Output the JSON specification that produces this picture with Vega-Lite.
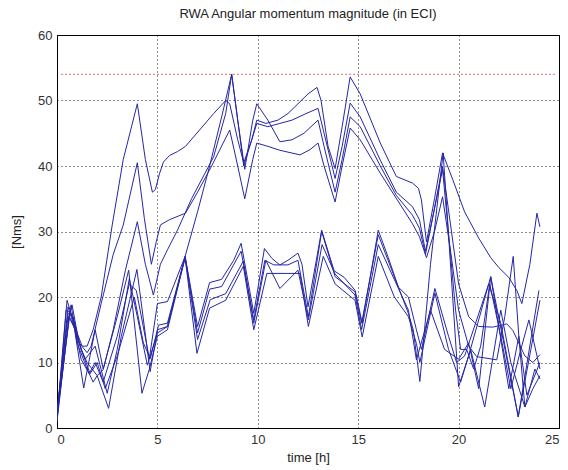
{
"$schema": "https://vega.github.io/schema/vega-lite/v6.json",
"width": 502, "height": 393,
"autosize": {"type": "none"},
"padding": {"left": 57, "top": 35, "right": 9, "bottom": 42},
"background": "white",
"title": {"text": "RWA Angular momentum magnitude (in ECI)", "fontSize": 13, "fontWeight": "normal", "font": "Liberation Sans", "color": "#222", "offset": 8},
"config": {
  "view": {"stroke": "#000", "strokeWidth": 1},
  "axis": {"labelFont": "Liberation Sans", "labelFontSize": 13, "labelColor": "#333", "titleFont": "Liberation Sans", "titleFontSize": 13, "titleFontWeight": "normal", "titleColor": "#222", "domainColor": "#000", "grid": true, "gridColor": "#000", "gridDash": [1, 3], "gridOpacity": 0.9, "ticks": false}
},
"datasets": {
  "red": [{"t": 0.2, "v": 54}, {"t": 24.8, "v": 54}],
  "m": [
{"s":"U1","t":0,"v":1.5},{"s":"U1","t":0.45,"v":18},{"s":"U1","t":0.7,"v":17.5},{"s":"U1","t":1.0,"v":14.5},{"s":"U1","t":1.25,"v":12.5},{"s":"U1","t":1.5,"v":12.5},{"s":"U1","t":1.8,"v":15},{"s":"U1","t":2.2,"v":20},{"s":"U1","t":2.75,"v":31},{"s":"U1","t":3.3,"v":41},{"s":"U1","t":4.0,"v":49.5},{"s":"U1","t":4.4,"v":41},{"s":"U1","t":4.75,"v":36},{"s":"U1","t":4.9,"v":36.4},{"s":"U1","t":5.1,"v":38.8},{"s":"U1","t":5.3,"v":40.6},{"s":"U1","t":5.6,"v":41.6},{"s":"U1","t":6.0,"v":42.2},{"s":"U1","t":6.4,"v":43},{"s":"U1","t":7.1,"v":45.5},{"s":"U1","t":7.8,"v":48},{"s":"U1","t":8.4,"v":50},{"s":"U1","t":8.6,"v":49.5},{"s":"U1","t":9.0,"v":44},{"s":"U1","t":9.3,"v":40.5},{"s":"U1","t":9.7,"v":44},{"s":"U1","t":9.95,"v":46.5},{"s":"U1","t":10.5,"v":46},{"s":"U1","t":11.1,"v":46.5},{"s":"U1","t":11.7,"v":47},{"s":"U1","t":12.4,"v":48},{"s":"U1","t":13.0,"v":48.8},{"s":"U1","t":13.3,"v":45},{"s":"U1","t":13.85,"v":38.1},{"s":"U1","t":14.2,"v":43},{"s":"U1","t":14.6,"v":49.6},{"s":"U1","t":15.1,"v":47.5},{"s":"U1","t":16.1,"v":40.9},{"s":"U1","t":16.9,"v":36},{"s":"U1","t":17.7,"v":33.8},{"s":"U1","t":18.05,"v":31.8},{"s":"U1","t":18.35,"v":27},{"s":"U1","t":18.7,"v":32},{"s":"U1","t":19.2,"v":39.9},{"s":"U1","t":19.6,"v":31},{"s":"U1","t":20.0,"v":22},{"s":"U1","t":20.5,"v":17},{"s":"U1","t":21.0,"v":15.5},{"s":"U1","t":21.7,"v":15.4},{"s":"U1","t":22.4,"v":15.9},{"s":"U1","t":22.7,"v":14.9},{"s":"U1","t":23.3,"v":11},{"s":"U1","t":23.7,"v":10},{"s":"U1","t":24.05,"v":11.2},

{"s":"U2","t":0,"v":2},{"s":"U2","t":0.55,"v":18.5},{"s":"U2","t":0.8,"v":16},{"s":"U2","t":1.1,"v":13},{"s":"U2","t":1.5,"v":11.5},{"s":"U2","t":1.7,"v":12.5},{"s":"U2","t":2.2,"v":19},{"s":"U2","t":2.8,"v":26.5},{"s":"U2","t":3.3,"v":31},{"s":"U2","t":4.0,"v":40.5},{"s":"U2","t":4.35,"v":32},{"s":"U2","t":4.7,"v":25},{"s":"U2","t":4.95,"v":28.5},{"s":"U2","t":5.15,"v":31},{"s":"U2","t":5.6,"v":31.8},{"s":"U2","t":6.4,"v":32.8},{"s":"U2","t":7.0,"v":36},{"s":"U2","t":7.7,"v":40},{"s":"U2","t":8.6,"v":45.5},{"s":"U2","t":9.0,"v":40},{"s":"U2","t":9.35,"v":35},{"s":"U2","t":9.75,"v":41},{"s":"U2","t":9.95,"v":43.5},{"s":"U2","t":10.5,"v":43},{"s":"U2","t":11.1,"v":42.4},{"s":"U2","t":12.1,"v":41.7},{"s":"U2","t":12.6,"v":42.5},{"s":"U2","t":13.0,"v":43.5},{"s":"U2","t":13.3,"v":40},{"s":"U2","t":13.85,"v":34.5},{"s":"U2","t":14.2,"v":40},{"s":"U2","t":14.6,"v":45.8},{"s":"U2","t":15.1,"v":44},{"s":"U2","t":16.1,"v":38.9},{"s":"U2","t":17.7,"v":31.2},{"s":"U2","t":18.05,"v":29.2},{"s":"U2","t":18.4,"v":26},{"s":"U2","t":18.8,"v":30},{"s":"U2","t":19.2,"v":35.3},{"s":"U2","t":19.6,"v":27},{"s":"U2","t":20.0,"v":18},{"s":"U2","t":20.5,"v":12.5},{"s":"U2","t":20.9,"v":10.9},{"s":"U2","t":21.9,"v":10.4},{"s":"U2","t":22.3,"v":17},{"s":"U2","t":22.72,"v":26.2},{"s":"U2","t":23.0,"v":14},{"s":"U2","t":23.3,"v":3.2},{"s":"U2","t":23.7,"v":6},{"s":"U2","t":24.05,"v":8},

{"s":"U3","t":0,"v":2.5},{"s":"U3","t":0.5,"v":16},{"s":"U3","t":0.75,"v":18.8},{"s":"U3","t":1.1,"v":13},{"s":"U3","t":1.4,"v":10.5},{"s":"U3","t":1.9,"v":12.5},{"s":"U3","t":2.5,"v":5.3},{"s":"U3","t":3.0,"v":12},{"s":"U3","t":3.6,"v":22.8},{"s":"U3","t":4.0,"v":17},{"s":"U3","t":4.5,"v":9.6},{"s":"U3","t":5.0,"v":14.5},{"s":"U3","t":5.5,"v":15.5},{"s":"U3","t":6.38,"v":26.2},{"s":"U3","t":7.0,"v":33},{"s":"U3","t":7.6,"v":40},{"s":"U3","t":8.2,"v":47.5},{"s":"U3","t":8.7,"v":54},{"s":"U3","t":9.0,"v":47},{"s":"U3","t":9.3,"v":40},{"s":"U3","t":9.7,"v":44},{"s":"U3","t":9.95,"v":47},{"s":"U3","t":10.4,"v":46.5},{"s":"U3","t":11.0,"v":47},{"s":"U3","t":11.5,"v":48},{"s":"U3","t":12.0,"v":49.5},{"s":"U3","t":12.5,"v":51},{"s":"U3","t":12.95,"v":52},{"s":"U3","t":13.15,"v":50},{"s":"U3","t":13.5,"v":43},{"s":"U3","t":13.85,"v":39.6},{"s":"U3","t":14.2,"v":46},{"s":"U3","t":14.6,"v":53.6},{"s":"U3","t":15.1,"v":51},{"s":"U3","t":16.1,"v":43.5},{"s":"U3","t":16.9,"v":38.4},{"s":"U3","t":17.7,"v":37.4},{"s":"U3","t":18.0,"v":36.6},{"s":"U3","t":18.15,"v":34.8},{"s":"U3","t":18.4,"v":28.4},{"s":"U3","t":18.8,"v":35},{"s":"U3","t":19.2,"v":42},{"s":"U3","t":19.7,"v":38},{"s":"U3","t":20.3,"v":33},{"s":"U3","t":21.0,"v":29},{"s":"U3","t":21.6,"v":26},{"s":"U3","t":22.0,"v":24.5},{"s":"U3","t":22.5,"v":23},{"s":"U3","t":22.9,"v":21},{"s":"U3","t":23.15,"v":19},{"s":"U3","t":23.55,"v":25},{"s":"U3","t":23.9,"v":32.8},{"s":"U3","t":24.05,"v":30.7},

{"s":"U4","t":0,"v":1},{"s":"U4","t":0.6,"v":17},{"s":"U4","t":0.85,"v":15.5},{"s":"U4","t":1.2,"v":12},{"s":"U4","t":1.5,"v":10},{"s":"U4","t":2.0,"v":8},{"s":"U4","t":2.3,"v":8.9},{"s":"U4","t":2.8,"v":15},{"s":"U4","t":3.4,"v":24},{"s":"U4","t":4.0,"v":31.5},{"s":"U4","t":4.4,"v":25},{"s":"U4","t":4.8,"v":20.3},{"s":"U4","t":5.15,"v":25},{"s":"U4","t":5.5,"v":27.2},{"s":"U4","t":6.0,"v":30.2},{"s":"U4","t":6.7,"v":35},{"s":"U4","t":7.8,"v":41.4},{"s":"U4","t":8.4,"v":48},{"s":"U4","t":8.7,"v":54},{"s":"U4","t":9.0,"v":47},{"s":"U4","t":9.35,"v":39.5},{"s":"U4","t":9.75,"v":47},{"s":"U4","t":9.95,"v":49.5},{"s":"U4","t":10.5,"v":47},{"s":"U4","t":11.1,"v":43.7},{"s":"U4","t":11.7,"v":44},{"s":"U4","t":12.3,"v":45},{"s":"U4","t":13.0,"v":47},{"s":"U4","t":13.3,"v":43},{"s":"U4","t":13.85,"v":36},{"s":"U4","t":14.2,"v":41},{"s":"U4","t":14.6,"v":47.5},{"s":"U4","t":15.1,"v":46},{"s":"U4","t":16.1,"v":40},{"s":"U4","t":16.9,"v":35.5},{"s":"U4","t":17.7,"v":32.5},{"s":"U4","t":18.05,"v":30.5},{"s":"U4","t":18.35,"v":26.5},{"s":"U4","t":18.7,"v":32},{"s":"U4","t":19.2,"v":39.5},{"s":"U4","t":19.55,"v":28},{"s":"U4","t":19.85,"v":18},{"s":"U4","t":20.1,"v":12},{"s":"U4","t":20.4,"v":12},{"s":"U4","t":20.75,"v":9},{"s":"U4","t":21.1,"v":12.5},{"s":"U4","t":21.55,"v":22},{"s":"U4","t":22.1,"v":14},{"s":"U4","t":22.6,"v":6},{"s":"U4","t":23.1,"v":12},{"s":"U4","t":23.5,"v":16.5},{"s":"U4","t":24.05,"v":9},

{"s":"L1","t":0,"v":1},{"s":"L1","t":0.5,"v":19.5},{"s":"L1","t":0.8,"v":16.5},{"s":"L1","t":1.33,"v":6.1},{"s":"L1","t":1.9,"v":15},{"s":"L1","t":2.3,"v":9},{"s":"L1","t":3.0,"v":17},{"s":"L1","t":3.57,"v":24.1},{"s":"L1","t":4.23,"v":5.3},{"s":"L1","t":4.6,"v":9},{"s":"L1","t":5.0,"v":14},{"s":"L1","t":5.5,"v":15},{"s":"L1","t":6.38,"v":26},{"s":"L1","t":6.97,"v":11.4},{"s":"L1","t":7.6,"v":18.3},{"s":"L1","t":8.4,"v":19.5},{"s":"L1","t":9.28,"v":24.7},{"s":"L1","t":9.8,"v":15},{"s":"L1","t":10.45,"v":23.6},{"s":"L1","t":11.0,"v":23.6},{"s":"L1","t":11.5,"v":23.6},{"s":"L1","t":12.1,"v":23.6},{"s":"L1","t":12.52,"v":15.5},{"s":"L1","t":13.26,"v":26.2},{"s":"L1","t":13.85,"v":22},{"s":"L1","t":14.84,"v":19.5},{"s":"L1","t":15.2,"v":13.9},{"s":"L1","t":16.0,"v":26.2},{"s":"L1","t":16.8,"v":20},{"s":"L1","t":17.5,"v":17},{"s":"L1","t":17.9,"v":12.9},{"s":"L1","t":18.07,"v":10},{"s":"L1","t":18.82,"v":20.6},{"s":"L1","t":19.5,"v":12},{"s":"L1","t":20.1,"v":7},{"s":"L1","t":20.6,"v":12},{"s":"L1","t":21.3,"v":3.2},{"s":"L1","t":22.1,"v":18},{"s":"L1","t":22.6,"v":10},{"s":"L1","t":23.3,"v":3.2},{"s":"L1","t":23.8,"v":9},{"s":"L1","t":24.05,"v":7.5},

{"s":"L2","t":0,"v":2},{"s":"L2","t":0.7,"v":18.8},{"s":"L2","t":1.0,"v":13},{"s":"L2","t":1.5,"v":9},{"s":"L2","t":1.8,"v":7},{"s":"L2","t":2.0,"v":8},{"s":"L2","t":2.57,"v":3},{"s":"L2","t":3.2,"v":14},{"s":"L2","t":3.98,"v":24.2},{"s":"L2","t":4.64,"v":8.6},{"s":"L2","t":5.05,"v":15.7},{"s":"L2","t":5.5,"v":16},{"s":"L2","t":6.38,"v":26.2},{"s":"L2","t":7.0,"v":14.5},{"s":"L2","t":7.6,"v":21.2},{"s":"L2","t":8.2,"v":21.6},{"s":"L2","t":9.17,"v":27},{"s":"L2","t":9.8,"v":16.5},{"s":"L2","t":10.35,"v":25.6},{"s":"L2","t":10.8,"v":24.9},{"s":"L2","t":11.5,"v":24.9},{"s":"L2","t":12.0,"v":25.6},{"s":"L2","t":12.52,"v":17},{"s":"L2","t":13.18,"v":30},{"s":"L2","t":13.85,"v":23.1},{"s":"L2","t":14.84,"v":20.8},{"s":"L2","t":15.17,"v":16},{"s":"L2","t":16.0,"v":29.5},{"s":"L2","t":17.5,"v":17.5},{"s":"L2","t":17.74,"v":15},{"s":"L2","t":18.07,"v":7.1},{"s":"L2","t":18.6,"v":25},{"s":"L2","t":19.23,"v":42},{"s":"L2","t":20.0,"v":6.3},{"s":"L2","t":20.5,"v":11},{"s":"L2","t":21.6,"v":23.1},{"s":"L2","t":22.97,"v":1.7},{"s":"L2","t":24.0,"v":21},

{"s":"L3","t":0,"v":1.5},{"s":"L3","t":0.6,"v":17},{"s":"L3","t":0.9,"v":15},{"s":"L3","t":1.2,"v":10.5},{"s":"L3","t":1.6,"v":8.3},{"s":"L3","t":1.9,"v":10},{"s":"L3","t":2.3,"v":7},{"s":"L3","t":3.0,"v":14},{"s":"L3","t":3.6,"v":22},{"s":"L3","t":3.95,"v":21},{"s":"L3","t":4.6,"v":10.6},{"s":"L3","t":5.0,"v":19},{"s":"L3","t":5.5,"v":19.3},{"s":"L3","t":6.38,"v":26.2},{"s":"L3","t":7.0,"v":15.5},{"s":"L3","t":7.6,"v":22.2},{"s":"L3","t":8.2,"v":22.7},{"s":"L3","t":8.8,"v":25.6},{"s":"L3","t":9.17,"v":28.2},{"s":"L3","t":9.8,"v":17.5},{"s":"L3","t":10.33,"v":27.4},{"s":"L3","t":10.7,"v":25.9},{"s":"L3","t":11.1,"v":24.9},{"s":"L3","t":11.5,"v":25.6},{"s":"L3","t":12.0,"v":26.7},{"s":"L3","t":12.2,"v":25},{"s":"L3","t":12.5,"v":18.5},{"s":"L3","t":13.18,"v":30.2},{"s":"L3","t":13.8,"v":24},{"s":"L3","t":14.3,"v":23},{"s":"L3","t":14.85,"v":21},{"s":"L3","t":15.2,"v":16},{"s":"L3","t":16.0,"v":30.2},{"s":"L3","t":16.5,"v":26},{"s":"L3","t":17.0,"v":21.5},{"s":"L3","t":17.5,"v":20},{"s":"L3","t":17.9,"v":15},{"s":"L3","t":18.15,"v":12},{"s":"L3","t":18.82,"v":21.3},{"s":"L3","t":19.5,"v":14},{"s":"L3","t":19.9,"v":10},{"s":"L3","t":20.3,"v":11},{"s":"L3","t":21.5,"v":22},{"s":"L3","t":22.1,"v":16},{"s":"L3","t":22.97,"v":1.7},{"s":"L3","t":23.6,"v":12},{"s":"L3","t":24.05,"v":19.5},

{"s":"L4","t":0,"v":2},{"s":"L4","t":0.55,"v":17.5},{"s":"L4","t":0.8,"v":17},{"s":"L4","t":1.2,"v":12},{"s":"L4","t":1.65,"v":8.3},{"s":"L4","t":2.0,"v":10},{"s":"L4","t":2.4,"v":6},{"s":"L4","t":3.0,"v":11},{"s":"L4","t":3.85,"v":20},{"s":"L4","t":4.3,"v":13},{"s":"L4","t":4.65,"v":10.6},{"s":"L4","t":5.0,"v":15},{"s":"L4","t":5.5,"v":15.5},{"s":"L4","t":6.38,"v":26},{"s":"L4","t":7.0,"v":13.5},{"s":"L4","t":7.63,"v":19.6},{"s":"L4","t":8.4,"v":20.5},{"s":"L4","t":9.28,"v":25.5},{"s":"L4","t":9.8,"v":16},{"s":"L4","t":10.4,"v":25.6},{"s":"L4","t":11.1,"v":21.3},{"s":"L4","t":12.0,"v":24.1},{"s":"L4","t":12.52,"v":16.5},{"s":"L4","t":13.2,"v":28},{"s":"L4","t":13.85,"v":23.5},{"s":"L4","t":14.84,"v":20.3},{"s":"L4","t":15.17,"v":15},{"s":"L4","t":16.0,"v":28},{"s":"L4","t":17.5,"v":18},{"s":"L4","t":17.9,"v":10.4},{"s":"L4","t":18.6,"v":18},{"s":"L4","t":19.3,"v":12},{"s":"L4","t":20.0,"v":10.5},{"s":"L4","t":20.5,"v":13},{"s":"L4","t":21.0,"v":6},{"s":"L4","t":21.6,"v":23.1},{"s":"L4","t":22.5,"v":6},{"s":"L4","t":23.0,"v":14},{"s":"L4","t":23.4,"v":5},{"s":"L4","t":24.05,"v":10}
  ]
},
"layer": [
  {
    "data": {"name": "red"},
    "mark": {"type": "line", "color": "#e07070", "strokeDash": [2, 2], "strokeWidth": 1},
    "encoding": {
      "x": {"field": "t", "type": "quantitative"},
      "y": {"field": "v", "type": "quantitative"}
    }
  },
  {
    "data": {"name": "m"},
    "mark": {"type": "line", "color": "#2626a6", "strokeWidth": 1, "clip": true},
    "encoding": {
      "x": {"field": "t", "type": "quantitative", "scale": {"domain": [0, 25], "nice": false}, "axis": {"values": [0, 5, 10, 15, 20, 25], "title": "time [h]", "labelPadding": 5, "titlePadding": 5}},
      "y": {"field": "v", "type": "quantitative", "scale": {"domain": [0, 60], "nice": false}, "axis": {"values": [0, 10, 20, 30, 40, 50, 60], "title": "[Nms]", "labelPadding": 5, "titlePadding": 14}},
      "detail": {"field": "s", "type": "nominal"}
    }
  }
]
}
